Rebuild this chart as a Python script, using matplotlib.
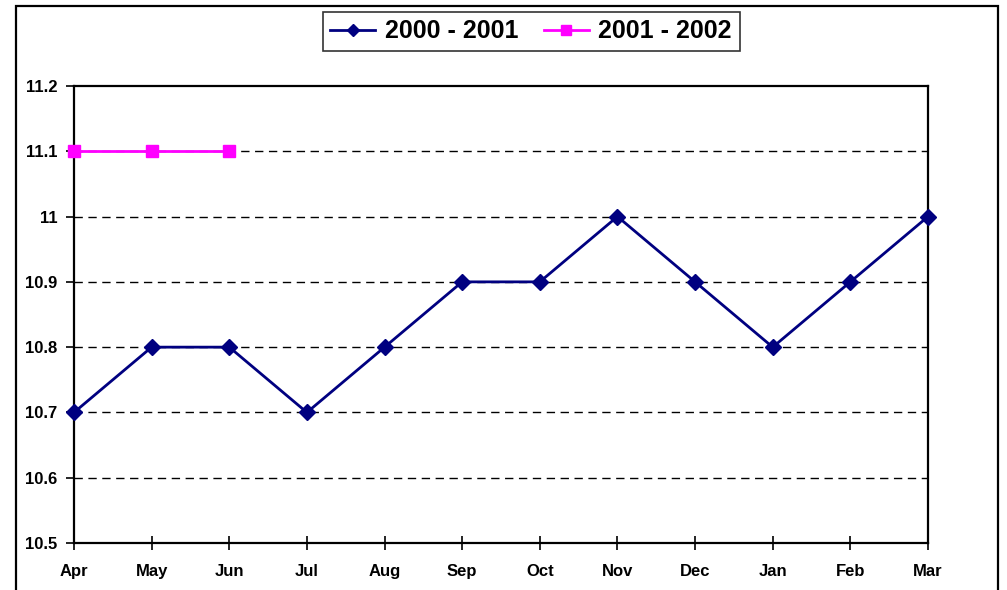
import matplotlib

matplotlib.use("Agg")
import matplotlib.pyplot as plt
from matplotlib.patches import Rectangle

months = ["Apr", "May", "Jun", "Jul", "Aug", "Sep", "Oct", "Nov", "Dec", "Jan", "Feb", "Mar"]
season_2000_01 = [10.7, 10.8, 10.8, 10.7, 10.8, 10.9, 10.9, 11.0, 10.9, 10.8, 10.9, 11.0]
season_2001_02 = [11.1, 11.1, 11.1]
y_ticks = [10.5, 10.6, 10.7, 10.8, 10.9, 11.0, 11.1, 11.2]
y_labels = ["10.5", "10.6", "10.7", "10.8", "10.9", "11", "11.1", "11.2"]

plt.rcParams["font.family"] = ["Liberation Sans", "DejaVu Sans"]
plt.rcParams["font.weight"] = "bold"

W, H = 1007, 590
fig = plt.figure(figsize=(W / 100, H / 100), dpi=100)

# outer chart frame (bottom edge runs off the image)
fig.patches.append(
    Rectangle((16 / W, -0.05), (998 - 16) / W, 1.05 - 6 / H,
              transform=fig.transFigure, fill=False, edgecolor="black", linewidth=1.6)
)

ax = fig.add_axes([74 / W, 47 / H, (928 - 74) / W, (543 - 86) / H])
x = list(range(len(months)))

ax.plot(x, season_2000_01, color="#000080", linewidth=2, marker="D", markersize=8,
        label="2000 - 2001", zorder=3, clip_on=False)
ax.plot(x[:len(season_2001_02)], season_2001_02, color="#FF00FF", linewidth=2, marker="s",
        markersize=9, label="2001 - 2002", zorder=3, clip_on=False)

ax.set_xlim(0, len(months) - 1)
ax.set_ylim(10.5, 11.2)
ax.set_xticks(x)
ax.set_xticklabels(months)
ax.set_yticks(y_ticks)
ax.set_yticklabels(y_labels)
ax.tick_params(axis="x", direction="inout", length=10, width=1.2, pad=10, labelsize=12)
ax.tick_params(axis="y", direction="out", length=6, width=1.2, pad=6, labelsize=12)

for yv in y_ticks[1:-1]:
    ax.axhline(yv, color="black", linewidth=1, linestyle=(0, (6, 4)), zorder=1)

for s in ax.spines.values():
    s.set_linewidth(1.6)

leg = fig.legend(loc="center", bbox_to_anchor=(531 / W, 1 - 31.5 / H), ncol=2,
                 frameon=True, fancybox=False, fontsize=18, handlelength=1.8,
                 handletextpad=0.4, columnspacing=1.0, borderpad=0.3, markerscale=0.8)
leg.get_frame().set_edgecolor("black")
leg.get_frame().set_linewidth(1.2)

fig.savefig("out.png", dpi=100)
